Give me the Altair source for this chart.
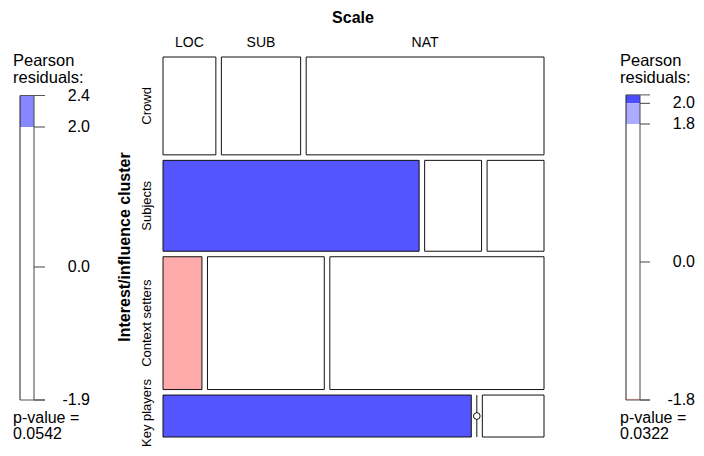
import altair as alt
import pandas as pd

# ---- data ----
rows = ["Crowd", "Subjects", "Context setters", "Key players"]
cols = ["LOC", "SUB", "NAT"]
crowd = [2, 3, 9]
subjects = [9, 2, 2]
context = [2, 6, 11]
key = [5, 0, 1]
counts = [crowd, subjects, context, key]

# left legend (values, labels)
left_ticks = [2.45, 2.0, 0.0, -1.9]
left_labels = ["2.4", "2.0", "0.0", "-1.9"]
left_seg_lo = [2.0, -1.9]
left_seg_hi = [2.45, 2.0]
left_seg_col = ["#8787FF", "#FFFFFF"]
left_p = "0.0542"

# right legend
right_ticks = [2.07, 1.80, 0.0, -1.80]
right_labels = ["2.0", "1.8", "0.0", "-1.8"]
right_seg_lo = [2.07, 1.80, -1.785, -1.80]
right_seg_hi = [2.18, 2.07, 1.80, -1.785]
right_seg_col = ["#4B4BFF", "#ABABFF", "#FFFFFF", "#FFAAAA"]
right_p = "0.0322"

FONT = "Liberation Sans"

# ---- mosaic geometry (normalised units) ----
gap = 0.0145
n = sum(sum(r) for r in counts)
row_tot = [sum(r) for r in counts]
col_tot = [sum(r[j] for r in counts) for j in range(3)]
recs = []
yavail = 1 - gap * (len(rows) - 1)
xavail = 1 - gap * (len(cols) - 1)
ycur = 0.0
for i, rname in enumerate(rows):
    h = row_tot[i] / n * yavail
    xcur = 0.0
    for j, cname in enumerate(cols):
        w = counts[i][j] / row_tot[i] * xavail
        exp = row_tot[i] * col_tot[j] / n
        resid = (counts[i][j] - exp) / exp ** 0.5
        recs.append(dict(row=rname, col=cname, count=counts[i][j],
                         x0=xcur, x1=xcur + w, y0=ycur, y1=ycur + h,
                         xm=xcur + w / 2, ym=ycur + h / 2, resid=resid))
        xcur += w + gap
    ycur += h + gap
df = pd.DataFrame(recs)
# keep the rotated row labels inside the canvas
df["ylab"] = df["ym"].clip(upper=0.937)
cells = df[df["count"] > 0]
zeros = df[df["count"] == 0]

xs = alt.Scale(domain=[0, 1], range=[155, 536])
ys = alt.Scale(domain=[0, 1], range=[49, 429])

rect = alt.Chart(cells).mark_rect(stroke="#111111", strokeWidth=1).encode(
    x=alt.X("x0:Q", scale=xs, axis=None), x2="x1:Q",
    y=alt.Y("y0:Q", scale=ys, axis=None), y2="y1:Q",
    fill=alt.Fill("resid:Q", scale=alt.Scale(type="threshold", domain=[-1.75, 2.0],
                  range=["#FFAAAA", "#FFFFFF", "#5555FF"]), legend=None),
)
zrule = alt.Chart(zeros).mark_rule(color="#111111", strokeWidth=1).encode(
    x=alt.X("x0:Q", scale=xs, axis=None),
    y=alt.Y("y0:Q", scale=ys, axis=None), y2="y1:Q",
)
zpt = alt.Chart(zeros).mark_point(shape="circle", filled=True, fill="white",
                                   stroke="#111111", strokeWidth=1, size=45, opacity=1).encode(
    x=alt.X("x0:Q", scale=xs, axis=None),
    y=alt.Y("ym:Q", scale=ys, axis=None),
)
collab = alt.Chart(df[df["row"] == rows[0]]).mark_text(font=FONT, fontSize=14, color="black").encode(
    x=alt.X("xm:Q", scale=xs, axis=None), y=alt.value(35), text="col:N")
rowlab = alt.Chart(df[df["col"] == cols[0]]).mark_text(font=FONT, fontSize=13, color="black",
                                                       angle=270).encode(
    y=alt.Y("ylab:Q", scale=ys, axis=None), x=alt.value(139), text="row:N")


def txt(s, x, y, size=15, bold=False, align="left", angle=0):
    return alt.Chart(pd.DataFrame({"t": [s]})).mark_text(
        font=FONT, fontSize=size, fontWeight="bold" if bold else "normal",
        align=align, baseline="middle", color="black", angle=angle
    ).encode(x=alt.value(x), y=alt.value(y), text="t:N")


def legend(ticks, labels, lo, hi, colsg, dom, rng, bx0, bx1, tx1, lx):
    sc = alt.Scale(domain=dom, range=rng)
    seg = alt.Chart(pd.DataFrame({"lo": lo, "hi": hi, "c": colsg})).mark_rect().encode(
        x=alt.value(bx0), x2=alt.value(bx1),
        y=alt.Y("lo:Q", scale=sc, axis=None), y2="hi:Q",
        fill=alt.Fill("c:N", scale=None))
    edges = alt.Chart(pd.DataFrame({"lo": [dom[0]], "hi": [dom[1]]})).mark_rule(color="#222222").encode(
        y=alt.Y("lo:Q", scale=sc, axis=None), y2="hi:Q", x=alt.value(bx0))
    edges2 = alt.Chart(pd.DataFrame({"lo": [dom[0]], "hi": [dom[1]]})).mark_rule(color="#444444").encode(
        y=alt.Y("lo:Q", scale=sc, axis=None), y2="hi:Q", x=alt.value(bx1))
    tdf = pd.DataFrame({"v": ticks, "l": labels})
    tk = alt.Chart(tdf).mark_rule(color="#444444").encode(
        y=alt.Y("v:Q", scale=sc, axis=None), x=alt.value(bx1), x2=alt.value(tx1))
    ends = alt.Chart(pd.DataFrame({"v": [dom[0], dom[1]]})).mark_rule(color="#555555").encode(
        y=alt.Y("v:Q", scale=sc, axis=None), x=alt.value(bx0), x2=alt.value(tx1))
    lab = alt.Chart(tdf).mark_text(font=FONT, fontSize=16, align="right", baseline="middle",
                                   color="black").encode(
        y=alt.Y("v:Q", scale=sc, axis=None), x=alt.value(lx), text="l:N")
    return [seg, edges, edges2, tk, ends, lab]


layers = [rect, zrule, zpt, collab, rowlab,
          txt("Scale", 345, 10, 16, True, "center"),
          txt("Interest/influence cluster", 117, 239, 16, True, "center", 270),
          txt("Pearson", 5, 52.5, 16.5), txt("residuals:", 5, 69.5, 16.5),
          txt("p-value =", 5, 410, 16), txt(left_p, 5, 426, 16),
          txt("Pearson", 612, 52.5, 16.5), txt("residuals:", 612, 69.5, 16.5),
          txt("p-value =", 612, 410, 16), txt(right_p, 612, 426, 16)]
layers += legend(left_ticks, left_labels, left_seg_lo, left_seg_hi, left_seg_col,
                 [-1.9, 2.45], [392, 87.5], 12, 26, 37, 82)
layers += legend(right_ticks, right_labels, right_seg_lo, right_seg_hi, right_seg_col,
                 [-1.8, 2.18], [392, 86.9], 618, 632, 642, 687)

chart = alt.layer(*layers).resolve_scale(x="independent", y="independent").properties(
    width=688, height=440, padding=0,
    autosize=alt.AutoSizeParams(type="fit", contains="padding")
).configure_view(stroke=None)

chart.save("out.html", embed_options={"renderer": "svg", "actions": False})
